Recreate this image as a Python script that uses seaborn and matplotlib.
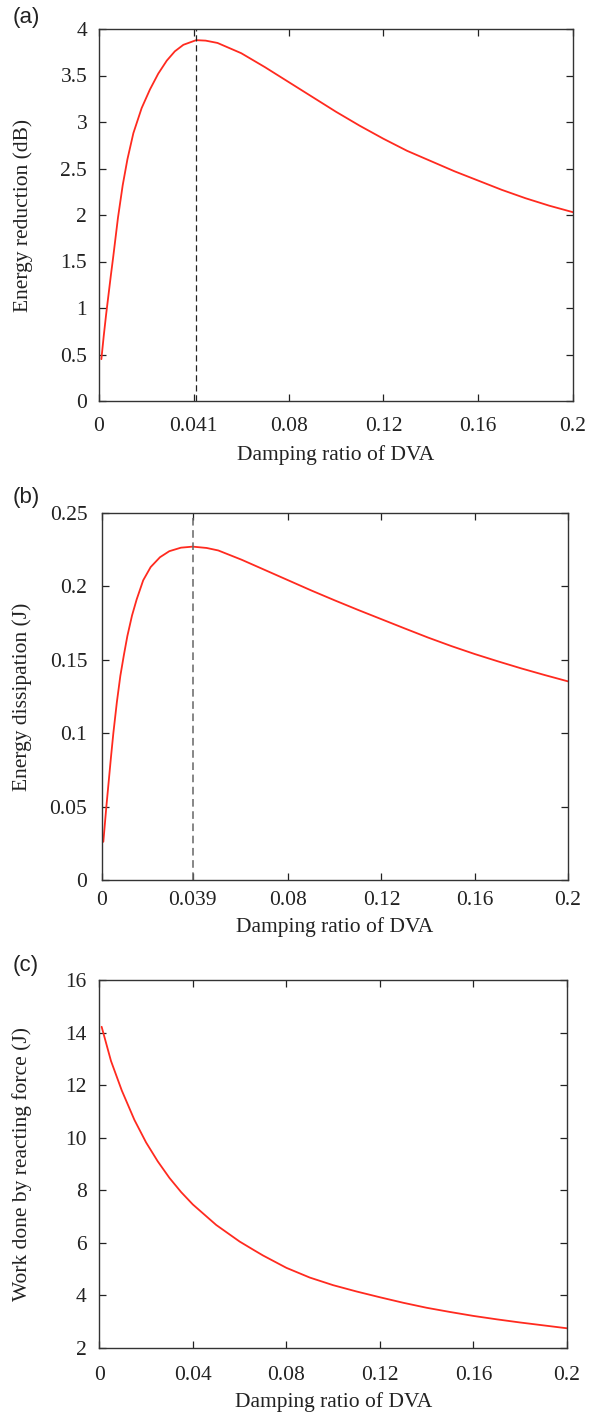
import numpy as np
import pandas as pd
import seaborn as sns
import matplotlib
matplotlib.use("Agg")
import matplotlib.pyplot as plt

sns.set_theme(style="white")
plt.rcParams['font.family'] = ['Liberation Serif', 'DejaVu Serif']

# ---------------- data ----------------
xa = [0.001, 0.002, 0.003, 0.004, 0.005, 0.006, 0.008, 0.010, 0.012, 0.0145,
      0.018, 0.0215, 0.025, 0.0286, 0.032, 0.0356, 0.041, 0.045, 0.05, 0.06,
      0.07, 0.08, 0.09, 0.1, 0.11, 0.12, 0.13, 0.14, 0.15, 0.16,
      0.17, 0.18, 0.19, 0.2]
ya = [0.45, 0.70, 0.93, 1.14, 1.35, 1.55, 1.97, 2.32, 2.60, 2.88,
      3.15, 3.35, 3.52, 3.66, 3.76, 3.83, 3.88, 3.875, 3.85, 3.74,
      3.59, 3.43, 3.27, 3.11, 2.96, 2.82, 2.69, 2.58, 2.47, 2.37,
      2.27, 2.18, 2.10, 2.03]
peak_a = 0.041

xb = [0.0007, 0.002, 0.003, 0.004, 0.005, 0.0065, 0.008, 0.0095, 0.011, 0.013,
      0.015, 0.0178, 0.021, 0.025, 0.029, 0.034, 0.039, 0.045, 0.05, 0.06,
      0.07, 0.08, 0.09, 0.1, 0.11, 0.12, 0.13, 0.14, 0.15, 0.16,
      0.17, 0.18, 0.19, 0.2]
yb = [0.026, 0.050, 0.067, 0.084, 0.100, 0.121, 0.139, 0.153, 0.166, 0.180,
      0.191, 0.204, 0.213, 0.2197, 0.2238, 0.2262, 0.2269, 0.2260, 0.2243, 0.2180,
      0.2110, 0.2040, 0.1970, 0.1903, 0.1838, 0.1775, 0.1712, 0.1650, 0.1592, 0.1538,
      0.1488, 0.1440, 0.1395, 0.1352]
peak_b = 0.039

xc = [0.001, 0.005, 0.0096, 0.015, 0.02, 0.025, 0.03, 0.035, 0.04, 0.05,
      0.06, 0.066, 0.07, 0.08, 0.09, 0.1, 0.11, 0.12, 0.13, 0.14,
      0.15, 0.16, 0.17, 0.18, 0.19, 0.2]
yc = [14.22, 12.92, 11.80, 10.68, 9.82, 9.10, 8.47, 7.93, 7.46, 6.68,
      6.05, 5.73, 5.52, 5.05, 4.68, 4.39, 4.15, 3.93, 3.72, 3.53,
      3.37, 3.22, 3.09, 2.97, 2.86, 2.75]

xticks_a = [0, 0.04, 0.08, 0.12, 0.16, 0.2]
xticklabels_a = ['0', '0.041', '0.08', '0.12', '0.16', '0.2']
yticks_a = [0, 0.5, 1, 1.5, 2, 2.5, 3, 3.5, 4]
yticklabels_a = ['0', '0.5', '1', '1.5', '2', '2.5', '3', '3.5', '4']

xticks_b = [0, 0.039, 0.08, 0.12, 0.16, 0.2]
xticklabels_b = ['0', '0.039', '0.08', '0.12', '0.16', '0.2']
yticks_b = [0, 0.05, 0.1, 0.15, 0.2, 0.25]
yticklabels_b = ['0', '0.05', '0.1', '0.15', '0.2', '0.25']

xticks_c = [0, 0.04, 0.08, 0.12, 0.16, 0.2]
xticklabels_c = ['0', '0.04', '0.08', '0.12', '0.16', '0.2']
yticks_c = [2, 4, 6, 8, 10, 12, 14, 16]
yticklabels_c = ['2', '4', '6', '8', '10', '12', '14', '16']

xlabel = 'Damping ratio of DVA'
ylabel_a = 'Energy reduction (dB)'
ylabel_b = 'Energy dissipation (J)'
ylabel_c = 'Work done by reacting force (J)'
panels = ['(a)', '(b)', '(c)']

# ---------------- figure ----------------
W, H = 589, 1415
fig = plt.figure(figsize=(W / 100, H / 100), dpi=100)
fig.patch.set_facecolor('white')

def px_axes(box):
    l, t, r, b = box
    return fig.add_axes([l / W, 1 - b / H, (r - l) / W, (b - t) / H])

box_a = (99, 29, 573, 401)
box_b = (101.7, 512.7, 568, 880)
box_c = (99.3, 980, 567, 1348)
ax_a = px_axes(box_a)
ax_b = px_axes(box_b)
ax_c = px_axes(box_c)

red = '#ff2a1f'
FS = 15.5

def style(ax, box, xt, xtl, yt, ytl, xlim, ylim, ylab, xpad, ypad, ylab_x, xlab_y):
    l, t, r, b = box
    ax.set_facecolor('white')
    ax.set_xlim(*xlim)
    ax.set_ylim(*ylim)
    ax.set_xticks(xt)
    ax.set_xticklabels(xtl)
    ax.set_yticks(yt)
    ax.set_yticklabels(ytl)
    ax.tick_params(direction='in', length=5, width=0.9, colors='#222222',
                   labelcolor='#222222', labelsize=FS, top=True, right=True,
                   bottom=True, left=True)
    ax.tick_params(axis='x', pad=xpad)
    ax.tick_params(axis='y', pad=ypad)
    for s in ax.spines.values():
        s.set_visible(True)
        s.set_color('#333333')
        s.set_linewidth(1.0)
    ax.set_xlabel(xlabel, fontsize=FS, color='#222222', va='center')
    ax.set_ylabel(ylab, fontsize=FS, color='#222222', va='center')
    ax.xaxis.set_label_coords(0.5, -(xlab_y - b) / (b - t))
    ax.yaxis.set_label_coords((ylab_x - l) / (r - l), 0.5)
    ax.grid(False)

df_a = pd.DataFrame({'x': xa, 'y': ya})
df_b = pd.DataFrame({'x': xb, 'y': yb})
df_c = pd.DataFrame({'x': xc, 'y': yc})

sns.lineplot(data=df_a, x='x', y='y', ax=ax_a, color=red, linewidth=1.3)
ax_a.axvline(peak_a, color='#222222', linestyle=(0, (5, 3)), linewidth=0.9)
style(ax_a, box_a, xticks_a, xticklabels_a, yticks_a, yticklabels_a, (0, 0.2), (0, 4),
      ylabel_a, 11.5, 8.5, 23, 455)

sns.lineplot(data=df_b, x='x', y='y', ax=ax_b, color=red, linewidth=1.3)
ax_b.axvline(peak_b, color='#666666', linestyle=(0, (5, 3)), linewidth=1.1)
style(ax_b, box_b, xticks_b, xticklabels_b, yticks_b, yticklabels_b, (0, 0.2), (0, 0.25),
      ylabel_b, 8, 10.4, 22, 927)

sns.lineplot(data=df_c, x='x', y='y', ax=ax_c, color=red, linewidth=1.3)
style(ax_c, box_c, xticks_c, xticklabels_c, yticks_c, yticklabels_c, (0, 0.2), (2, 16),
      ylabel_c, 13, 9.2, 22, 1402)

for lab, ypx in zip(panels, [17, 497, 966]):
    fig.text(13 / W, 1 - ypx / H, lab, fontsize=16, family=['Liberation Sans', 'DejaVu Sans'],
             color='#222222', ha='left', va='center')

fig.savefig('out.png', dpi=100, facecolor='white')
